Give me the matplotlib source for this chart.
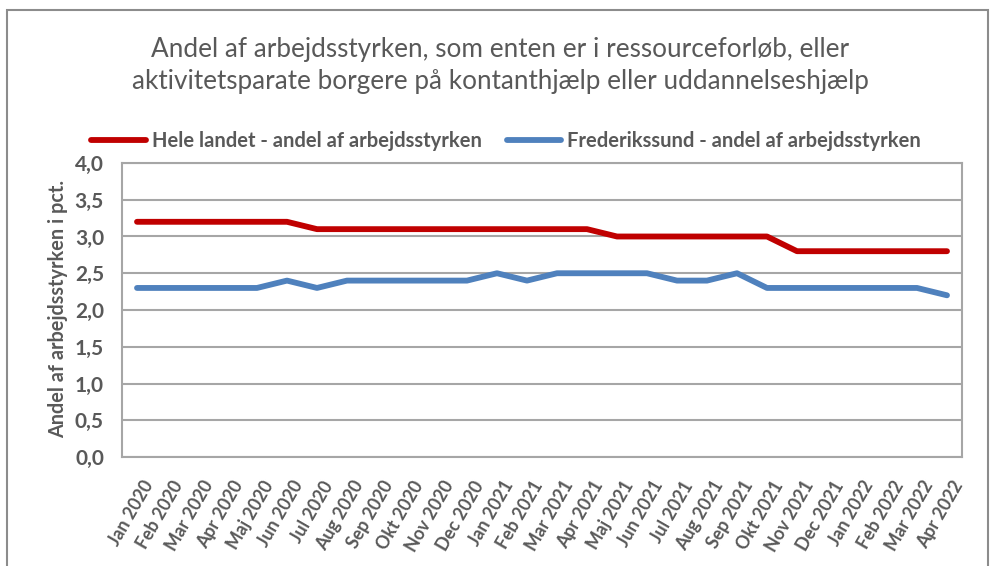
import matplotlib
matplotlib.use("Agg")
import matplotlib.pyplot as plt
from matplotlib.patches import Rectangle
from matplotlib.transforms import ScaledTranslation

plt.rcParams['font.family'] = ['Lato', 'DejaVu Sans']

months = ["Jan 2020", "Feb 2020", "Mar 2020", "Apr 2020", "Maj 2020", "Jun 2020",
          "Jul 2020", "Aug 2020", "Sep 2020", "Okt 2020", "Nov 2020", "Dec 2020",
          "Jan 2021", "Feb 2021", "Mar 2021", "Apr 2021", "Maj 2021", "Jun 2021",
          "Jul 2021", "Aug 2021", "Sep 2021", "Okt 2021", "Nov 2021", "Dec 2021",
          "Jan 2022", "Feb 2022", "Mar 2022", "Apr 2022"]
hele_landet = [3.2, 3.2, 3.2, 3.2, 3.2, 3.2,
               3.1, 3.1, 3.1, 3.1, 3.1, 3.1,
               3.1, 3.1, 3.1, 3.1, 3.0, 3.0,
               3.0, 3.0, 3.0, 3.0, 2.8, 2.8,
               2.8, 2.8, 2.8, 2.8]
frederikssund = [2.3, 2.3, 2.3, 2.3, 2.3, 2.4,
                 2.3, 2.4, 2.4, 2.4, 2.4, 2.4,
                 2.5, 2.4, 2.5, 2.5, 2.5, 2.5,
                 2.4, 2.4, 2.5, 2.3, 2.3, 2.3,
                 2.3, 2.3, 2.3, 2.2]
yticks = [0.0, 0.5, 1.0, 1.5, 2.0, 2.5, 3.0, 3.5, 4.0]
label_red = "Hele landet - andel af arbejdsstyrken"
label_blue = "Frederikssund - andel af arbejdsstyrken"
title = "Andel af arbejdsstyrken, som enten er i ressourceforløb, eller\naktivitetsparate borgere på kontanthjælp eller uddannelseshjælp"
ylabel = "Andel af arbejdsstyrken i pct."

W, H = 992, 566
fig = plt.figure(figsize=(W / 100, H / 100), dpi=100)
fig.patch.set_facecolor('white')

# outer chart frame
fig.add_artist(Rectangle((7 / W, -0.05), (988 - 7) / W, (H - 10) / H + 0.05,
                         transform=fig.transFigure, fill=False,
                         edgecolor='#8C8C8C', linewidth=1.5))

ax = fig.add_axes([122 / W, 1 - 457 / H, (962 - 122) / W, (457 - 163) / H])
x = list(range(len(months)))
ax.plot(x, hele_landet, color='#C00000', linewidth=4.2, solid_capstyle='round',
        solid_joinstyle='round', label=label_red)
ax.plot(x, frederikssund, color='#4F81BD', linewidth=4.2, solid_capstyle='round',
        solid_joinstyle='round', label=label_blue)

ax.set_xlim(-0.5, len(months) - 0.5)
ax.set_ylim(0, 4.0)
ax.set_yticks(yticks)
ax.set_yticklabels([f"{v:.1f}".replace('.', ',') for v in yticks],
                   fontsize=15, fontweight='bold', color='#595959')
ax.set_xticks(x)
ax.set_xticklabels(months, rotation=60, ha='right', va='top', rotation_mode='anchor',
                   fontsize=12.8, fontweight='bold', color='#595959')
ax.tick_params(axis='y', length=0, pad=13)
ax.tick_params(axis='x', length=0, pad=15)
off = ScaledTranslation(5 / 100, 0, fig.dpi_scale_trans)
for lab in ax.get_xticklabels():
    lab.set_transform(lab.get_transform() + off)
ax.grid(axis='y', color='#A6A6A6', linewidth=1.5)
ax.set_axisbelow(True)
for s in ax.spines.values():
    s.set_color('#A6A6A6')
    s.set_linewidth(1.5)

fig.text(58 / W, 1 - 309 / H, ylabel, rotation=90, ha='center', va='center',
         fontsize=14.3, fontweight='bold', color='#595959')

fig.text(500 / W, 1 - 66 / H, title, ha='center', va='center', fontsize=18.8,
         color='#595959', linespacing=1.35)

leg = fig.legend(loc='center', bbox_to_anchor=(506 / W, 1 - 141 / H), ncol=2,
                 frameon=False, handlelength=2.7, columnspacing=1.25,
                 handletextpad=0.3,
                 prop={'size': 14.5, 'weight': 'bold'})
for t in leg.get_texts():
    t.set_color('#595959')

fig.savefig('out.png', dpi=100)
